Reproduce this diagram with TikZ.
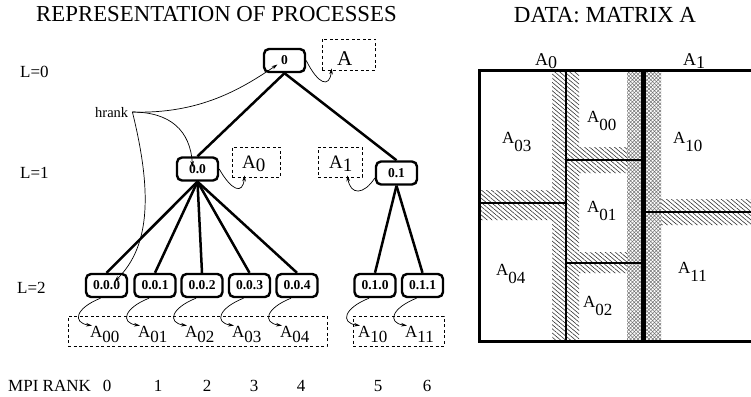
\documentclass[tikz,border=0pt]{standalone}
\usepackage{fontspec}
\setmainfont{Liberation Serif}
\usetikzlibrary{arrows.meta, patterns.meta}

\newcommand{\Asub}[2]{A\raisebox{-#1}{#2}}

\begin{document}
\begin{tikzpicture}[x=1pt, y=-1pt]
\useasboundingbox (0,0) rectangle (751,396);

% headings
\node (ttree) at (216.5, 22) [anchor=base, font=\fontsize{22.8}{25}\selectfont] {REPRESENTATION OF PROCESSES};
\node (tdata) at (605, 23) [anchor=base, font=\fontsize{23}{25}\selectfont] {DATA: MATRIX A};

\begin{scope}[every node/.style={anchor=base west, inner sep=0pt, font=\fontsize{17}{20}\selectfont}]
    \node (lev0) at (20, 77) {L=0};
    \node (lev1) at (20, 178) {L=1};
    \node (lev2) at (17, 293) {L=2};
    \node (mpi) at (8, 391) {MPI RANK};
\end{scope}

\begin{scope}[every node/.style={anchor=base, inner sep=0pt, font=\fontsize{17}{20}\selectfont}]
    \foreach \x/\r in {107/0, 158/1, 207/2, 254/3, 301/4, 378/5, 427/6}
        \node (rank\r) at (\x, 391) {\r};
\end{scope}

\node (hrank) at (91, 117) [anchor=base west, inner ysep=0pt, inner xsep=4pt, font=\fontsize{14.5}{16}\selectfont] {hrank};

% processes
\begin{scope}[every node/.style={rectangle, rounded corners=5pt, line width=2.4pt, draw, fill=white,
              minimum width=41pt, minimum height=23pt, inner sep=0pt, font=\bfseries\fontsize{13.5}{15}\selectfont}]
    \node (p0) at (284.5, 60.5) {0};

    \node (p00) at (197.5, 169) {0.0};
    \node (p01) at (396.5, 173) {0.1};

    \node (p000) at (106.5, 285.5) {0.0.0};
    \node (p001) at (155, 285.5) {0.0.1};
    \node (p002) at (202, 285.5) {0.0.2};
    \node (p003) at (249.5, 285.5) {0.0.3};
    \node (p004) at (297, 285.5) {0.0.4};
    \node (p010) at (375, 285.5) {0.1.0};
    \node (p011) at (422.5, 285.5) {0.1.1};
\end{scope}

% data owned by each process
\begin{scope}[every node/.style={rectangle, draw, dash pattern=on 3pt off 2.5pt, line width=.8pt, inner sep=0pt}]
    \node (dA) at (348.5, 54.5) [minimum width=53pt, minimum height=31pt] {};
    \node (dA0) at (256, 162) [minimum width=48pt, minimum height=30pt] {};
    \node (dA1) at (340, 162) [minimum width=44pt, minimum height=30pt] {};
    \node (dleft) at (197.5, 331) [minimum width=259pt, minimum height=30pt] {};
    \node (dright) at (398.5, 331) [minimum width=91pt, minimum height=30pt] {};
\end{scope}

\begin{scope}[every node/.style={anchor=base west, inner sep=0pt, font=\fontsize{17}{20}\selectfont}]
    \node (lA) at (337, 65) [font=\fontsize{21}{24}\selectfont] {A};
    \node (lA0) at (242, 168) [font=\fontsize{19}{22}\selectfont] {\Asub{3pt}{0}};
    \node (lA1) at (329, 168) [font=\fontsize{19}{22}\selectfont] {\Asub{3pt}{1}};

    \node (a00) at (90, 337) {\Asub{5pt}{00}};
    \node (a01) at (138, 337) {\Asub{5pt}{01}};
    \node (a02) at (185, 337) {\Asub{5pt}{02}};
    \node (a03) at (232, 337) {\Asub{5pt}{03}};
    \node (a04) at (280, 337) {\Asub{5pt}{04}};
    \node (a10) at (358, 337) {\Asub{5pt}{10}};
    \node (a11) at (405, 337) {\Asub{5pt}{11}};
\end{scope}

% tree
\begin{scope}[every edge/.style={draw, line width=2.5pt}]
    \path (p0.south) edge (p00.north) edge (p01.north);
    \path (p00.south) edge (p000.north) edge (p001.north) edge (p002.north)
                      edge (p003.north) edge (p004.north);
    \path (p01.south) edge (p010.north) edge (p011.north);
\end{scope}

\begin{scope}[>={Stealth[black, length=6pt, width=3.6pt]}, line width=.7pt]
    \draw [->] (hrank.east) .. controls +(67,2) and +(-37,25) .. ([shift={(-7,4)}]p0.center);
    \draw [->] (hrank.east) .. controls +(37,0) and +(-2,-37) .. ([shift={(-5,-2)}]p00.center);
    \draw [->] (hrank.east) .. controls +(19,77) and +(37,-36) .. ([shift={(8,-4)}]p000.center);

    \draw [->] (p0.east) .. controls +(12,24) and +(-2,20) .. ([shift={(10,-2)}]dA.south west);
    \draw [->] (p00.east) .. controls +(12,21) and +(-2,20) .. ([shift={(13,-2)}]dA0.south west);
    \draw [->] ([yshift=-5pt]p01.west) .. controls +(-11,17) and +(3,20) .. ([shift={(-15,-2)}]dA1.south east);

    \foreach \p/\a in {p000/a00, p001/a01, p002/a02, p003/a03, p004/a04, p010/a10, p011/a11}
        \draw [->] ([xshift=-6pt]\p.south) .. controls +(-25,10) and +(-20,-3) .. ([xshift=2pt]\a.north west);
\end{scope}

% matrix A
\fill [pattern={Lines[angle=-40, distance=3.2pt, line width=.6pt]}, pattern color=black!80]
    (552,70) rectangle (579,341.5) (479,190) rectangle (552,220)
    (579,147) rectangle (627,173) (579,252) rectangle (627,273)
    (661,199) rectangle (770,225);
\fill [pattern={Hatch[angle=45, distance=2.6pt, line width=.5pt]}, pattern color=black!55]
    (627,70) rectangle (661,341.5);
\draw [line width=1.2pt] (566,70) -- (566,341.5);
\draw [line width=1.2pt] (479,203) -- (566,203);
\draw [line width=1.2pt] (566,160) -- (643.5,160);
\draw [line width=1.2pt] (566,263) -- (643.5,263);
\draw [line width=1.2pt] (643.5,212) -- (770,212);
\draw [line width=4.5pt] (643.5,70) -- (643.5,341.5);
\draw [line width=3pt] (770,70) -- (479,70) -- (479,341.5) -- (770,341.5);

\begin{scope}[every node/.style={anchor=base west, inner sep=0pt, font=\fontsize{17}{20}\selectfont}]
    \node (mA0) at (535, 65) [font=\fontsize{18}{20}\selectfont] {\Asub{3pt}{0}};
    \node (mA1) at (683, 65) [font=\fontsize{18}{20}\selectfont] {\Asub{3pt}{1}};
    \node (m03) at (502, 143) {\Asub{8pt}{03}};
    \node (m00) at (587, 122) {\Asub{8pt}{00}};
    \node (m01) at (587, 212) {\Asub{8pt}{01}};
    \node (m04) at (496, 275) {\Asub{8pt}{04}};
    \node (m02) at (583, 307) {\Asub{8pt}{02}};
    \node (m10) at (673, 143) {\Asub{8pt}{10}};
    \node (m11) at (678, 273) {\Asub{8pt}{11}};
\end{scope}
\end{tikzpicture}
\end{document}
